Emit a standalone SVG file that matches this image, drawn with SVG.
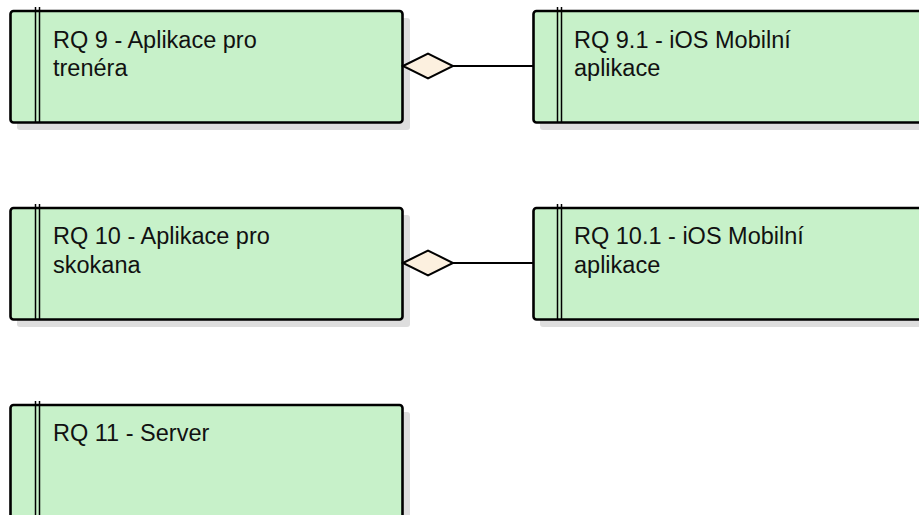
<svg xmlns="http://www.w3.org/2000/svg" width="919" height="515" viewBox="0 0 919 515">
  <style>
    .shadow { fill: #dedede; }
    .box { fill: #c7f1c9; stroke: #000; stroke-width: 2.6; }
    .bar { stroke: #000; stroke-width: 1.5; fill: none; }
    .label { font-family: "Liberation Sans", Arial, sans-serif; font-size: 23.5px; fill: #111; }
    .link { stroke: #000; stroke-width: 2; fill: none; }
    .agg { fill: #fcf0df; stroke: #000; stroke-width: 2; stroke-linejoin: miter; }
  </style>

  <!-- Requirement RQ 9 -->
  <g id="rq9">
    <rect class="shadow" x="17" y="18" width="393" height="112" rx="3"/>
    <rect class="box" x="10.5" y="11" width="392" height="111.5" rx="3"/>
    <line class="bar" x1="35.5" y1="7" x2="35.5" y2="122"/>
    <line class="bar" x1="39.5" y1="7" x2="39.5" y2="122"/>
    <text class="label" x="53" y="48">RQ 9 - Aplikace pro</text>
    <text class="label" x="53" y="76">trenéra</text>
  </g>

  <!-- Requirement RQ 9.1 -->
  <g id="rq9_1">
    <rect class="shadow" x="540" y="18" width="400" height="112" rx="3"/>
    <rect class="box" x="533.5" y="11" width="400" height="111.5" rx="3"/>
    <line class="bar" x1="557.5" y1="7" x2="557.5" y2="122"/>
    <line class="bar" x1="561.5" y1="7" x2="561.5" y2="122"/>
    <text class="label" x="574" y="48">RQ 9.1 - iOS Mobilní</text>
    <text class="label" x="574" y="76">aplikace</text>
  </g>

  <!-- Requirement RQ 10 -->
  <g id="rq10">
    <rect class="shadow" x="17" y="215" width="393" height="112" rx="3"/>
    <rect class="box" x="10.5" y="208" width="392" height="111.5" rx="3"/>
    <line class="bar" x1="35.5" y1="204" x2="35.5" y2="319"/>
    <line class="bar" x1="39.5" y1="204" x2="39.5" y2="319"/>
    <text class="label" x="53" y="244">RQ 10 - Aplikace pro</text>
    <text class="label" x="53" y="273">skokana</text>
  </g>

  <!-- Requirement RQ 10.1 -->
  <g id="rq10_1">
    <rect class="shadow" x="540" y="215" width="400" height="112" rx="3"/>
    <rect class="box" x="533.5" y="208" width="400" height="111.5" rx="3"/>
    <line class="bar" x1="557.5" y1="204" x2="557.5" y2="319"/>
    <line class="bar" x1="561.5" y1="204" x2="561.5" y2="319"/>
    <text class="label" x="574" y="244">RQ 10.1 - iOS Mobilní</text>
    <text class="label" x="574" y="273">aplikace</text>
  </g>

  <!-- Requirement RQ 11 -->
  <g id="rq11">
    <rect class="shadow" x="17" y="412" width="393" height="130" rx="3"/>
    <rect class="box" x="10.5" y="405" width="392" height="130" rx="3"/>
    <line class="bar" x1="35.5" y1="401" x2="35.5" y2="515"/>
    <line class="bar" x1="39.5" y1="401" x2="39.5" y2="515"/>
    <text class="label" x="53" y="441">RQ 11 - Server</text>
  </g>

  <!-- Aggregation connectors -->
  <g id="connectors">
    <line class="link" x1="453" y1="66" x2="533" y2="66"/>
    <polygon class="agg" points="403,66 428,53.5 453,66 428,78.5"/>
    <line class="link" x1="453" y1="263" x2="533" y2="263"/>
    <polygon class="agg" points="403,263 428,250.5 453,263 428,275.5"/>
  </g>
</svg>
